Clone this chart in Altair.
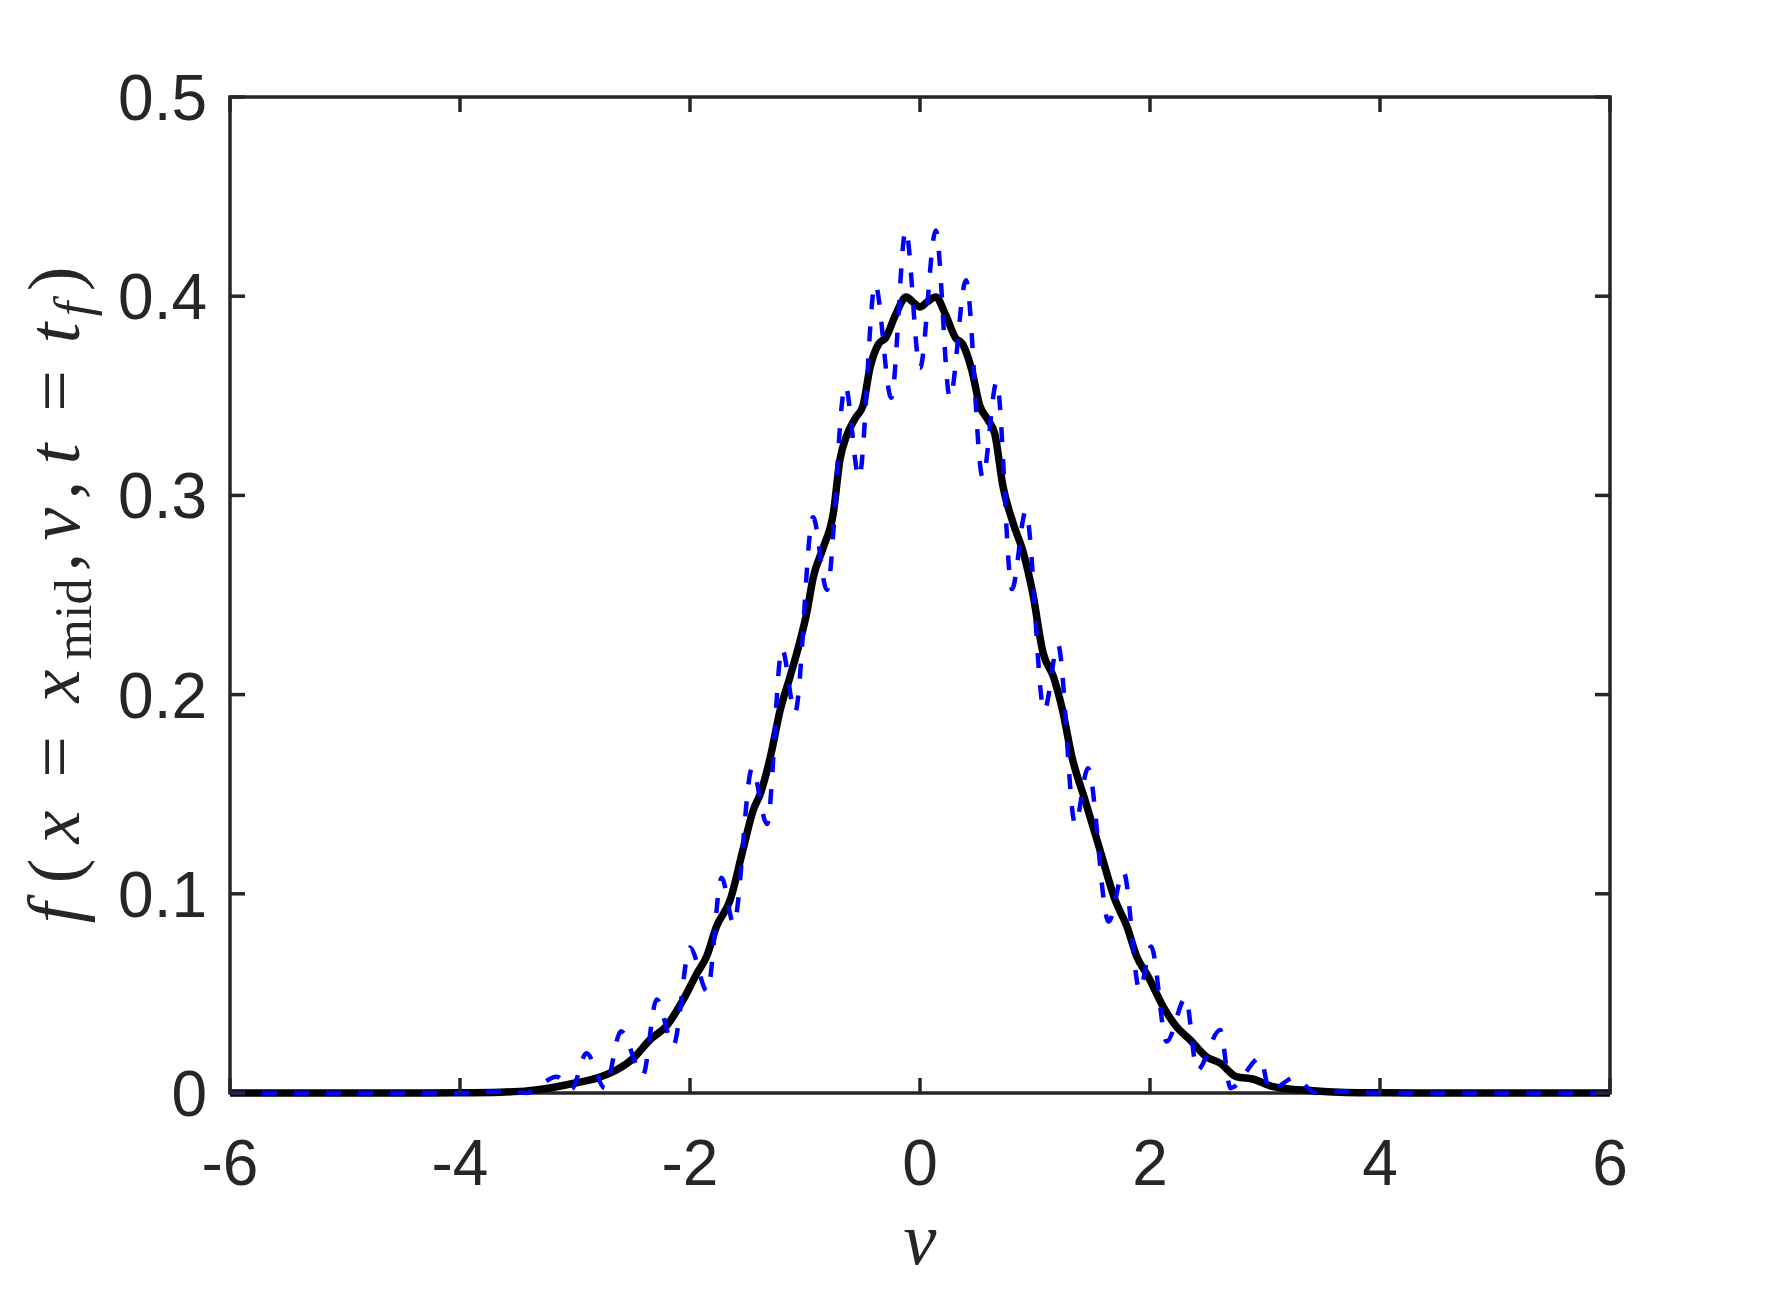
import altair as alt
import pandas as pd

# ---- data ----
v_black = [-6.0, -4.5, -4.0, -3.65, -3.4, -3.22, -3.0, -2.81, -2.64, -2.49,
           -2.35, -2.2, -2.06, -1.94, -1.855, -1.77, -1.65, -1.54, -1.45, -1.39,
           -1.30, -1.217, -1.13, -1.043, -0.985, -0.928, -0.84, -0.754, -0.696, -0.638,
           -0.56, -0.496, -0.435, -0.36, -0.30, -0.21, -0.12, -0.06, 0.0,
           0.06, 0.137, 0.22, 0.31, 0.37, 0.45, 0.52, 0.59, 0.65, 0.72,
           0.81, 0.90, 0.98, 1.07, 1.16, 1.24, 1.32, 1.435, 1.565, 1.696,
           1.80, 1.884, 1.985, 2.115, 2.23, 2.35, 2.49, 2.61, 2.75, 2.9,
           3.07, 3.39, 3.7, 4.0, 4.5, 6.0]
f_black = [0.0, 0.0, 0.0001, 0.0004, 0.0012, 0.0025, 0.005, 0.0075, 0.0115, 0.0176,
           0.0266, 0.034, 0.0467, 0.060, 0.0686, 0.0835, 0.097, 0.122, 0.142, 0.150,
           0.169, 0.192, 0.209, 0.227, 0.241, 0.259, 0.274, 0.291, 0.318, 0.330,
           0.339, 0.345, 0.364, 0.376, 0.379, 0.391, 0.3996, 0.397, 0.3946,
           0.397, 0.3996, 0.391, 0.379, 0.376, 0.363, 0.345, 0.338, 0.331, 0.305,
           0.286, 0.271, 0.251, 0.221, 0.209, 0.192, 0.169, 0.147, 0.122, 0.097,
           0.0835, 0.0686, 0.0584, 0.0433, 0.0333, 0.0266, 0.0182, 0.015, 0.0082, 0.0069,
           0.0032, 0.0012, 0.0003, 0.0001, 0.0, 0.0]

v_blue = [-6.0, -4.0, -3.6, -3.42, -3.16, -3.03, -2.9, -2.74, -2.6, -2.41,
          -2.29, -2.145, -2.0, -1.85, -1.725, -1.62, -1.46, -1.33, -1.2, -1.087,
          -0.93, -0.81, -0.65, -0.53, -0.39, -0.25, -0.124, 0.0, 0.137, 0.26,
          0.40, 0.545, 0.667, 0.80, 0.92, 1.08, 1.2, 1.35, 1.46, 1.64,
          1.77, 1.91, 2.01, 2.145, 2.31, 2.41, 2.61, 2.70, 2.96, 3.04,
          3.25, 3.45, 3.65, 4.0, 6.0]
f_blue = [0.0, 0.0, 0.0008, 0.0, 0.0082, 0.002, 0.020, 0.0024, 0.031, 0.009,
          0.047, 0.024, 0.073, 0.051, 0.108, 0.085, 0.163, 0.135, 0.223, 0.191,
          0.289, 0.2525, 0.355, 0.309, 0.406, 0.349, 0.433, 0.364, 0.433, 0.349,
          0.408, 0.309, 0.357, 0.253, 0.292, 0.192, 0.225, 0.135, 0.163, 0.086,
          0.111, 0.0517, 0.0735, 0.0258, 0.0477, 0.0115, 0.0316, 0.0024, 0.0176, 0.001,
          0.0075, 0.0, 0.0008, 0.0, 0.0]

x_ticks = [-6, -4, -2, 0, 2, 4, 6]
y_ticks = [0, 0.1, 0.2, 0.3, 0.4, 0.5]
x_tick_labels = ["-6", "-4", "-2", "0", "2", "4", "6"]
y_tick_labels = ["0", "0.1", "0.2", "0.3", "0.4", "0.5"]

# y-axis title pieces: f(x = x_mid, v, t = t_f)
ylab_text = ["f", "(", "x", "=", "x", "mid", ",", "v", ",", "t", "=", "t", "f", ")"]
ylab_kind = ["mi", "mu", "mi", "mu", "mi", "su", "mu", "mi", "mu", "mi", "mu", "mi", "si", "mu"]
ylab_offset = [17, 59, 103, 173, 244, 311, 368, 406, 440, 476, 539, 597, 621, 651]

# ---- layout ----
W, H = 1380, 996
AX = "#262626"
xs = alt.Scale(domain=[-6, 6], nice=False, zero=False)
ys = alt.Scale(domain=[0, 0.5], nice=False, zero=False)

black_df = pd.DataFrame({"v": v_black, "f": f_black})
blue_df = pd.DataFrame({"v": v_blue, "f": f_blue})

black = alt.Chart(black_df).mark_line(color="#000000", strokeWidth=7.5, interpolate="monotone").encode(
    x=alt.X("v:Q", scale=xs, axis=None),
    y=alt.Y("f:Q", scale=ys, axis=None),
)
blue = alt.Chart(blue_df).mark_line(color="#0000ff", strokeWidth=4.5, strokeDash=[15, 17],
                                    interpolate="monotone").encode(
    x=alt.X("v:Q", scale=xs, axis=None),
    y=alt.Y("f:Q", scale=ys, axis=None),
)

xt_df = pd.DataFrame({"v": x_ticks, "lab": x_tick_labels})
yt_df = pd.DataFrame({"f": y_ticks, "lab": y_tick_labels})
tick_mark = dict(color=AX, strokeWidth=3.5)
xt_bot = alt.Chart(xt_df).mark_rule(**tick_mark).encode(
    x=alt.X("v:Q", scale=xs, axis=None), y=alt.value(H), y2=alt.value(H - 15))
xt_top = alt.Chart(xt_df).mark_rule(**tick_mark).encode(
    x=alt.X("v:Q", scale=xs, axis=None), y=alt.value(0), y2=alt.value(15))
yt_left = alt.Chart(yt_df).mark_rule(**tick_mark).encode(
    y=alt.Y("f:Q", scale=ys, axis=None), x=alt.value(0), x2=alt.value(15))
yt_right = alt.Chart(yt_df).mark_rule(**tick_mark).encode(
    y=alt.Y("f:Q", scale=ys, axis=None), x=alt.value(W), x2=alt.value(W - 15))

# tick labels
xlab = alt.Chart(xt_df).mark_text(
    font="Liberation Sans", fontSize=64, color=AX, align="center", baseline="alphabetic"
).encode(x=alt.X("v:Q", scale=xs, axis=None), y=alt.value(H + 92), text=alt.Text("lab:N"))
ylab = alt.Chart(yt_df).mark_text(
    font="Liberation Sans", fontSize=64, color=AX, align="right", baseline="middle", dy=4
).encode(y=alt.Y("f:Q", scale=ys, axis=None), x=alt.value(-23), text=alt.Text("lab:N"))

# y-axis title built from pieces (rotated)
MAIN_X, SUB_X = -151.5, -139
styles = {"mi": ("italic", 74, MAIN_X), "mu": ("normal", 74, MAIN_X),
          "su": ("normal", 52, SUB_X), "si": ("italic", 52, SUB_X)}
title_layers = []
for txt, kind, off in zip(ylab_text, ylab_kind, ylab_offset):
    style, size, xpos = styles[kind]
    title_layers.append(
        alt.Chart(pd.DataFrame({"s": [txt]})).mark_text(
            angle=270, align="center", baseline="alphabetic", font="Liberation Serif",
            fontSize=size, fontStyle=style, color=AX
        ).encode(x=alt.value(xpos), y=alt.value(833 - off), text=alt.Text("s:N"))
    )

xtitle = alt.Chart(pd.DataFrame({"s": ["v"]})).mark_text(
    align="center", baseline="alphabetic", font="Liberation Serif", fontSize=74,
    fontStyle="italic", color=AX
).encode(x=alt.value(W / 2), y=alt.value(1167), text=alt.Text("s:N"))

chart = alt.layer(
    black, blue, xt_bot, xt_top, yt_left, yt_right, xlab, ylab, xtitle, *title_layers
).properties(
    width=W, height=H,
    autosize=alt.AutoSizeParams(type="none"),
    padding={"left": 222, "top": 89, "right": 150, "bottom": 186},
    background="white",
).configure_view(stroke=AX, strokeWidth=3.5)

chart.save("out.html", embed_options={"renderer": "svg", "actions": False})
